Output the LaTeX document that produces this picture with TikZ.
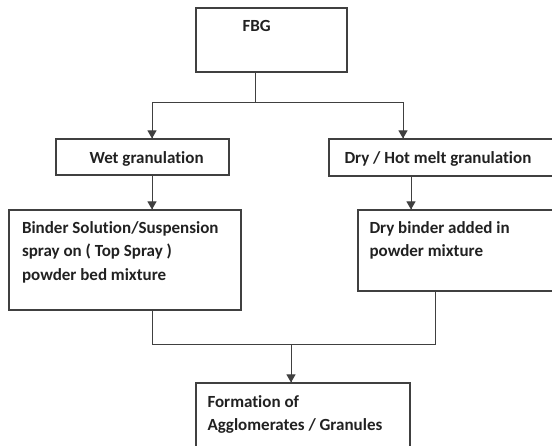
\documentclass[tikz,border=0pt]{standalone}
\usepackage{fontspec}
\setmainfont[Ligatures = NoCommon]{Carlito}
\usepackage{tikz}
\usetikzlibrary{arrows}
\usetikzlibrary{decorations.markings}
\usetikzlibrary{positioning}
\tikzset{->/.style = {decoration={markings,
                                  mark=at position 1 with {\arrow[scale=1.1]{triangle 60}}},
                      postaction={decorate}}}
\tikzset{stepbox/.style = {draw, rectangle, inner sep = 0, line width = 1.1pt}}
\tikzset{steptext/.style = {anchor = base west, inner sep = 0, align = left,
                            font = \fontsize{17}{23.4}\selectfont\bfseries, text = mtext}}
\definecolor{mline}{rgb}{0.25, 0.25, 0.25}
\definecolor{mtext}{rgb}{0.13, 0.13, 0.13}

\begin{document}
\begin{tikzpicture}[x = 1pt, y = -1pt, mline, line width = 1pt]
    \useasboundingbox (0, 0) rectangle (552, 445);
    \clip (0, 0) rectangle (552, 445);

    \node [stepbox, minimum width = 151, minimum height = 64] (fbg) at (271.5, 40) {};
    \node [stepbox, minimum width = 173, minimum height = 36] (wet) at (142.5, 157) {};
    \node [stepbox, minimum width = 240, minimum height = 37] (dry) at (449, 157.5) {};
    \node [stepbox, minimum width = 232, minimum height = 100] (binder) at (125, 260) {};
    \node [stepbox, minimum width = 210, minimum height = 81] (drybinder) at (463, 250.5) {};
    \node [stepbox, minimum width = 214, minimum height = 80] (agglo) at (303, 423) {};

    % multi-line texts sit on the baseline of their last line
    \node [steptext] (fbgtext) at (242, 31.7) {FBG};
    \node [steptext] (wettext) at (89, 163.3) {Wet granulation};
    \node [steptext] (drytext) at (344, 163.3) {Dry / Hot melt granulation};
    \node [steptext] (bindertext) at (21.5, 280.1) {Binder Solution/Suspension\\ spray on ( Top Spray )\\ powder bed mixture};
    \node [steptext] (drybindertext) at (369, 256.7) {Dry binder added in\\ powder mixture};
    \node [steptext] (agglotext) at (207, 430.7) {Formation of\\ Agglomerates / Granules};

    % split below FBG
    \coordinate (split) at (255, 102);
    \draw (fbg.south -| split) -- (split);
    \draw [->] (split) -| (wet.north -| 152, 0);
    \draw [->] (split) -| (dry.north -| 403, 0);

    \draw [->] (wet.south -| 152, 0) -- (binder.north -| 152, 0);
    \draw [->] (dry.south -| 411, 0) -- (drybinder.north -| 411, 0);

    % join above the granules
    \coordinate (join) at (291, 344);
    \draw (binder.south -| 152, 0) |- (join);
    \draw (drybinder.south -| 435, 0) |- (join);
    \draw [->] (join) -- (agglo.north -| join);
\end{tikzpicture}
\end{document}
